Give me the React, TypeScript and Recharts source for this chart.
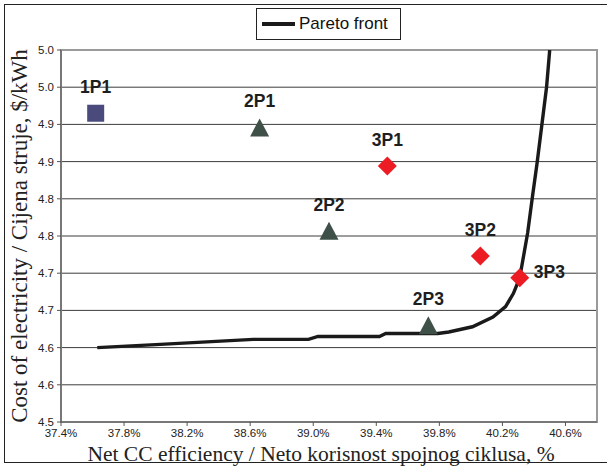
import React from "react";
import {
  CartesianGrid,
  ComposedChart,
  Label,
  Line,
  ReferenceArea,
  Scatter,
  XAxis,
  YAxis,
} from "recharts";

// Pareto front
const paretoX = [37.63, 38.0, 38.62, 38.97, 39.03, 39.42, 39.46, 39.79, 39.86, 40.01, 40.14, 40.22, 40.27, 40.31, 40.33, 40.36, 40.39, 40.42, 40.48, 40.5];
const paretoY = [4.6, 4.604, 4.611, 4.611, 4.615, 4.615, 4.619, 4.619, 4.621, 4.628, 4.641, 4.655, 4.673, 4.694, 4.718, 4.754, 4.802, 4.848, 4.95, 5.0];

// design points
const oneNames = ["1P1"];
const oneX = [37.62];
const oneY = [4.915];

const twoNames = ["2P1", "2P2", "2P3"];
const twoX = [38.66, 39.1, 39.73];
const twoY = [4.896, 4.757, 4.63];

const threeNames = ["3P1", "3P2", "3P3"];
const threeX = [39.47, 40.06, 40.31];
const threeY = [4.844, 4.723, 4.694];

const xTicks = [37.4, 37.8, 38.2, 38.6, 39.0, 39.4, 39.8, 40.2, 40.6];
const yTicks = [4.5, 4.55, 4.6, 4.65, 4.7, 4.75, 4.8, 4.85, 4.9, 4.95, 5.0];
const yTickLabels = ["4.5", "4.6", "4.6", "4.7", "4.7", "4.8", "4.8", "4.9", "4.9", "5.0", "5.0"];

// labels sit above the marker, except this one
const labelRight = ["3P3"];

const SANS = "'Liberation Sans', Arial, sans-serif";
const SERIF = "'Liberation Serif', 'Times New Roman', serif";
const GRID = "#3c3c3c";
const FRAME = "#9a9a9a";

const pareto = paretoX.map((x, i) => ({ x, y: paretoY[i] }));
const zip = (names: string[], xs: number[], ys: number[]) =>
  names.map((name, i) => ({ name, x: xs[i], y: ys[i] }));
const ones = zip(oneNames, oneX, oneY);
const twos = zip(twoNames, twoX, twoY);
const threes = zip(threeNames, threeX, threeY);

function PointLabel({ cx, cy, name }: { cx: number; cy: number; name: string }) {
  const right = labelRight.includes(name);
  return (
    <text
      x={right ? cx + 14 : cx}
      y={right ? cy - 6 : cy - 26}
      textAnchor={right ? "start" : "middle"}
      dominantBaseline="central"
      fontFamily={SANS}
      fontWeight="bold"
      fontSize={17.5}
      fill="#1e1e1e"
    >
      {name}
    </text>
  );
}

function Square(props: any) {
  const { cx, cy, payload } = props;
  return (
    <g>
      <rect x={cx - 8.5} y={cy - 8.5} width={17} height={17} fill="#4b4a7c" />
      <PointLabel cx={cx} cy={cy} name={payload.name} />
    </g>
  );
}

function Triangle(props: any) {
  const { cx, cy, payload } = props;
  return (
    <g>
      <path d={`M${cx},${cy - 9} L${cx + 9.5},${cy + 9} L${cx - 9.5},${cy + 9} Z`} fill="#3e5048" />
      <PointLabel cx={cx} cy={cy} name={payload.name} />
    </g>
  );
}

function Diamond(props: any) {
  const { cx, cy, payload } = props;
  return (
    <g>
      <path d={`M${cx},${cy - 9.5} L${cx + 9.5},${cy} L${cx},${cy + 9.5} L${cx - 9.5},${cy} Z`} fill="#ed1c24" />
      <PointLabel cx={cx} cy={cy} name={payload.name} />
    </g>
  );
}

function ParetoLegend() {
  return (
    <div
      style={{
        position: "absolute",
        left: 256,
        top: 8,
        width: 145,
        height: 32,
        border: "1px solid #222",
        background: "#fff",
        display: "flex",
        alignItems: "center",
        boxSizing: "border-box",
        fontFamily: SANS,
        fontSize: 17,
        color: "#111",
      }}
    >
      <span style={{ display: "inline-block", width: 33, height: 4, background: "#1a1a1a", marginLeft: 5, marginRight: 4 }} />
      Pareto front
    </div>
  );
}

export default function App() {
  return (
    <div style={{ position: "absolute", left: 0, top: 0, width: 607, height: 468, background: "#fff", overflow: "hidden" }}>
      <div
        style={{
          position: "absolute",
          left: 4,
          top: 4,
          width: 606,
          height: 459,
          border: "1px solid #222",
          boxSizing: "border-box",
        }}
      />
      <ComposedChart
        width={607}
        height={468}
        margin={{ top: 50, right: 10, bottom: 26, left: 21 }}
        style={{ position: "absolute", left: 0, top: 0 }}
      >
        <CartesianGrid stroke={GRID} vertical={false} horizontalValues={yTicks} />
        <ReferenceArea x1={37.4} x2={40.8} y1={4.5} y2={5.0} fill="none" stroke={FRAME} strokeWidth={2} ifOverflow="visible" />
        <XAxis
          type="number"
          dataKey="x"
          domain={[37.4, 40.8]}
          ticks={xTicks}
          allowDataOverflow
          tickFormatter={(v: number) => `${v.toFixed(1)}%`}
          tick={{ fontFamily: SANS, fontSize: 11.5, fill: "#222" }}
          tickSize={4}
          tickMargin={3}
          stroke="#555"
          height={20}
        >
          <Label
            value="Net CC efficiency / Neto korisnost spojnog ciklusa, %"
            position="insideBottom"
            offset={-19}
            dx={-8}
            style={{ fontFamily: SERIF, fontSize: 21.5, fill: "#222" }}
          />
        </XAxis>
        <YAxis
          type="number"
          dataKey="y"
          domain={[4.5, 5.0]}
          ticks={yTicks}
          allowDataOverflow
          tickFormatter={(v: number) => yTickLabels[yTicks.findIndex((t) => Math.abs(t - v) < 1e-6)] ?? ""}
          tick={{ fontFamily: SANS, fontSize: 11.5, fill: "#222" }}
          tickSize={4}
          tickMargin={3}
          stroke="#555"
          width={40}
        >
          <Label
            value="Cost of electricity / Cijena struje, $/kWh"
            angle={-90}
            position="insideLeft"
            offset={-2}
            style={{ fontFamily: SERIF, fontSize: 23, fill: "#222", textAnchor: "middle" }}
          />
        </YAxis>
        <Line
          data={pareto}
          dataKey="y"
          name="Pareto front"
          type="linear"
          stroke="#1a1a1a"
          strokeWidth={3.4}
          dot={false}
          isAnimationActive={false}
        />
        <Scatter data={ones} dataKey="y" shape={Square} isAnimationActive={false} />
        <Scatter data={twos} dataKey="y" shape={Triangle} isAnimationActive={false} />
        <Scatter data={threes} dataKey="y" shape={Diamond} isAnimationActive={false} />
      </ComposedChart>
      <ParetoLegend />
    </div>
  );
}
